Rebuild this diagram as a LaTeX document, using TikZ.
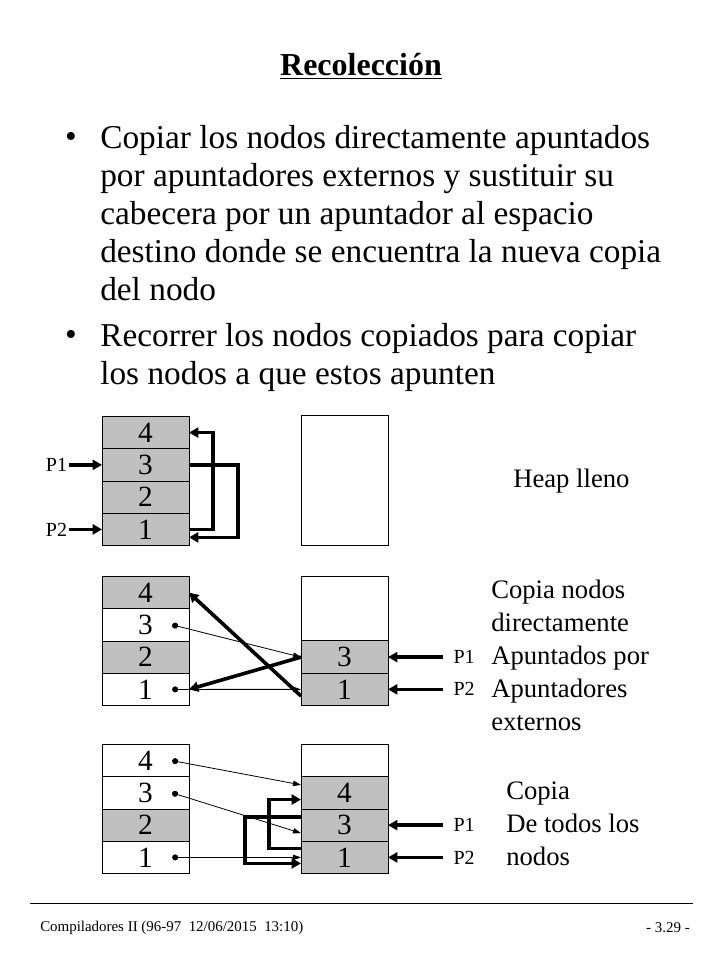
\documentclass[tikz,border=0pt]{standalone}
\usepackage{fontspec}
\setmainfont{Liberation Serif}
\usetikzlibrary{arrows.meta, positioning}
\definecolor{cellgray}{HTML}{C0C0C0}

\tikzset{
  cell/.style={draw, line width=0.75pt, minimum width=65.25pt, minimum height=24.2pt,
               inner sep=0pt, outer sep=0pt, font=\fontsize{22}{22}\selectfont},
  full/.style={cell, fill=cellgray},
  ptr/.style={font=\fontsize{15}{15}\selectfont, inner sep=1pt},
  heavy/.style={line width=2.7pt, -{Triangle[length=7pt,width=7.5pt]}},
  light/.style={line width=0.6pt, {Circle[length=4.5pt]}-{Triangle[length=6pt,width=4pt]}},
  body/.style={font=\fontsize{25}{28.5}\selectfont, align=left, inner sep=0pt},
  note/.style={font=\fontsize{20}{24.75}\selectfont, align=left, anchor=west, inner sep=0pt},
}

\begin{document}
\begin{tikzpicture}[x=0.75pt, y=-0.75pt]
  \useasboundingbox[fill=white] (0,0) rectangle (720,960);

  % title and bullets
  \node[font=\fontsize{24}{28}\selectfont\bfseries] (title) at (361,66) {\underline{Recolección}};
  \node[body, anchor=north west] (par1) at (100,125)
    {Copiar los nodos directamente apuntados\\
     por apuntadores externos y sustituir su\\
     cabecera por un apuntador al espacio\\
     destino donde se encuentra la nueva copia\\
     del nodo};
  \node[body, anchor=north west] (par2) at (100,323)
    {Recorrer los nodos copiados para copiar\\
     los nodos a que estos apunten};
  \node[body, anchor=base] (bul1) at (71,147) {•};
  \node[body, anchor=base] (bul2) at (71,345) {•};

  % heap lleno
  \node[full] (a4) at (145.5,432.6) {4};
  \node[full, below=0pt of a4] (a3) {3};
  \node[full, below=0pt of a3] (a2) {2};
  \node[full, below=0pt of a2] (a1) {1};
  \node[cell, minimum height=96.8pt] (rb) at (344.5,480.5) {};
  \node[ptr, left=25pt of a3] (pa1) {P1};
  \node[ptr, left=25pt of a1] (pa2) {P2};
  \draw[heavy] (pa1) -- (a3);
  \draw[heavy] (pa2) -- (a1);
  \draw[heavy] (a1.east) -- ++(18pt,0) |- (a4.east);
  \draw[heavy] (a3.east) -- ++(36.75pt,0) |- ([yshift=-6pt]a1.east);
  \node[note] (lbla) at (513,481) {Heap lleno};

  % copia directa
  \node[full] (b4) at (145.5,592.6) {4};
  \node[cell, below=0pt of b4] (b3) {3};
  \node[full, below=0pt of b3] (b2) {2};
  \node[cell, below=0pt of b2] (b1) {1};
  \node[cell, minimum height=48.4pt] (c0) at (344.5,608.7) {};
  \node[full, below=0pt of c0] (c3) {3};
  \node[full, below=0pt of c3] (c1) {1};
  \node[ptr, right=48pt of c3] (pb1) {P1};
  \node[ptr, right=48pt of c1] (pb2) {P2};
  \draw[heavy, shorten <=7pt] (pb1) -- (c3);
  \draw[heavy, shorten <=7pt] (pb2) -- (c1);
  \draw[light] ([xshift=20pt]b3.center) -- (c3.west);
  \draw[light] ([xshift=20pt]b1.center) -- (c1.west);
  \draw[heavy] (c3.west) -- (b1.east);
  \draw[heavy] ([yshift=-5pt]c1.west) -- (b4.east);
  \node[note] (lblb) at (491,655)
    {Copia nodos\\ directamente\\ Apuntados por\\ Apuntadores\\ externos};

  % copia de todos
  \node[cell] (d4) at (145.5,760.6) {4};
  \node[cell, below=0pt of d4] (d3) {3};
  \node[full, below=0pt of d3] (d2) {2};
  \node[cell, below=0pt of d2] (d1) {1};
  \node[cell] (e0) at (344.5,760.6) {};
  \node[full, below=0pt of e0] (e4) {4};
  \node[full, below=0pt of e4] (e3) {3};
  \node[full, below=0pt of e3] (e1) {1};
  \node[ptr, right=48pt of e3] (pd1) {P1};
  \node[ptr, right=48pt of e1] (pd2) {P2};
  \draw[heavy, shorten <=7pt] (pd1) -- (e3);
  \draw[heavy, shorten <=7pt] (pd2) -- (e1);
  \draw[light] ([xshift=20pt]d4.center) -- ([yshift=6pt]e4.west);
  \draw[light] ([xshift=20pt]d3.center) -- ([yshift=-6pt]e3.west);
  \draw[light] ([xshift=20pt]d1.center) -- (e1.west);
  \draw[heavy] ([yshift=6pt]e3.west) -- ++(-42pt,0) |- ([yshift=-4.5pt]e1.west);
  \draw[heavy] ([yshift=6.75pt]e1.west) -- ++(-24pt,0) |- ([yshift=-5pt]e4.west);
  \node[note] (lbld) at (506,824) {Copia\\ De todos los\\ nodos};

  % pie
  \draw[line width=0.75pt] (30,903) -- (693,903);
  \node[font=\fontsize{11.2}{13}\selectfont, anchor=west, inner sep=0pt] (foot) at (40,928)
    {Compiladores II (96-97\ \ 12/06/2015\ \ 13:10)};
  \node[font=\fontsize{11.2}{13}\selectfont, anchor=east, inner sep=0pt] (page) at (690,928)
    {- 3.29 -};
\end{tikzpicture}
\end{document}
